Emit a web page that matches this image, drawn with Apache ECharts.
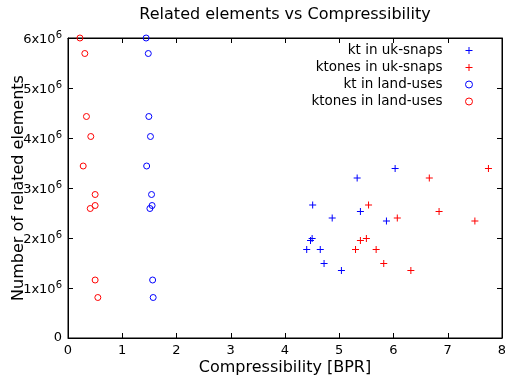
<!DOCTYPE html>
<html><head><meta charset="utf-8">
<script src="https://cdn.jsdelivr.net/npm/echarts@6/dist/echarts.min.js"></script>
<style>html,body{margin:0;padding:0;background:#fff}#c{width:505px;height:383px}</style>
</head><body><div id="c"></div>
<script>
const seriesNames = ['kt in uk-snaps','ktones in uk-snaps','kt in land-uses','ktones in land-uses'];
// uk-snaps (BPR, elements)
const ktUkX =     [6.03,5.33,4.51,5.39,4.87,5.87,4.50,4.47,4.40,4.65,4.72,5.04];
const ktonesUkX = [7.75,6.66,5.54,6.84,6.07,7.50,5.50,5.39,5.30,5.68,5.82,6.32];
const ukY =       [3390000,3200000,2660000,2530000,2400000,2340000,1990000,1950000,1770000,1770000,1490000,1350000];
// land-uses
const ktLandX =     [1.44,1.48,1.49,1.52,1.45,1.54,1.55,1.51,1.56,1.57];
const ktonesLandX = [0.22,0.31,0.34,0.42,0.28,0.50,0.50,0.41,0.50,0.55];
const landY =       [6000000,5690000,4430000,4030000,3440000,2870000,2650000,2590000,1160000,810000];
const xTicks = [0,1,2,3,4,5,6,7,8];
const yTicks = [0,1,2,3,4,5,6];

const FONT = 'DejaVu Sans';
const plus = 'path://M0,3L3,3L3,0L4,0L4,3L7,3L7,4L4,4L4,7L3,7L3,4L0,4Z';
function pts(xs, ys){ return xs.map((x,i)=>[x, ys[i]]); }
const chart = echarts.init(document.getElementById('c'));
function axisLine(){ return {show:true, onZero:false, lineStyle:{color:'#000', width:1}}; }
function tick(){ return {show:true, inside:true, length:5, lineStyle:{color:'#000', width:1}}; }
function mk(name, data, color, isPlus){
  return {name, type:'scatter', data, xAxisIndex:0, yAxisIndex:0,
    symbol: isPlus ? plus : 'circle', symbolSize: isPlus ? 7 : 6,
    itemStyle: isPlus ? {color:color, borderWidth:0, opacity:1}
                      : {color:'transparent', borderColor:color, borderWidth:1, opacity:1},
    emphasis:{disabled:true}};
}
chart.setOption({
  animation:false,
  textStyle:{fontFamily:FONT},
  title:{text:'Related elements vs Compressibility', left:280, top:2, textAlign:'center',
    textStyle:{fontFamily:FONT, fontSize:16, fontWeight:'normal', color:'#000'}},
  grid:{left:68, right:3, top:38, bottom:45, containLabel:false, outerBoundsMode:'none',
    show:true, borderColor:'#000', borderWidth:1, backgroundColor:'transparent'},
  legend:{orient:'vertical', right:27, top:38, align:'right', itemGap:2, itemWidth:7, itemHeight:7,
    textStyle:{fontFamily:FONT, fontSize:13.5, color:'#000', lineHeight:15, padding:[0,18,0,0]},
    data:[
      {name:seriesNames[0], icon:plus, itemStyle:{color:'#0000ff', borderWidth:0}},
      {name:seriesNames[1], icon:plus, itemStyle:{color:'#ff0000', borderWidth:0}},
      {name:seriesNames[2], icon:'circle', itemStyle:{color:'transparent', borderColor:'#0000ff', borderWidth:1}},
      {name:seriesNames[3], icon:'circle', itemStyle:{color:'transparent', borderColor:'#ff0000', borderWidth:1}}
    ]},
  xAxis:[
    {type:'value', min:xTicks[0], max:xTicks[xTicks.length-1], interval:1, position:'bottom',
     name:'Compressibility [BPR]', nameLocation:'middle', nameGap:22, nameMoveOverlap:false,
     nameTextStyle:{fontFamily:FONT, fontSize:16, color:'#000'},
     axisLine:axisLine(), axisTick:tick(), splitLine:{show:false},
     axisLabel:{fontFamily:FONT, fontSize:13, color:'#000', margin:6}},
    {type:'value', min:xTicks[0], max:xTicks[xTicks.length-1], interval:1, position:'top',
     axisLine:axisLine(), axisTick:tick(), splitLine:{show:false}, axisLabel:{show:false}}
  ],
  yAxis:[
    {type:'value', min:0, max:6000000, interval:1000000, position:'left',
     name:'Number of related elements', nameLocation:'middle', nameGap:41, nameRotate:90, nameMoveOverlap:false,
     nameTextStyle:{fontFamily:FONT, fontSize:16, color:'#000'},
     axisLine:axisLine(), axisTick:tick(), splitLine:{show:false},
     axisLabel:{fontFamily:FONT, fontSize:13, color:'#000', margin:6,
       formatter:v=> v===0 ? '0' : '{b|'+(v/1e6)+'x10}{s|6}',
       rich:{b:{fontFamily:FONT, fontSize:13, color:'#000', lineHeight:16, verticalAlign:'bottom'},
             s:{fontFamily:FONT, fontSize:10, color:'#000', lineHeight:16, verticalAlign:'top'}}}},
    {type:'value', min:0, max:6000000, interval:1000000, position:'right',
     axisLine:axisLine(), axisTick:tick(), splitLine:{show:false}, axisLabel:{show:false}}
  ],
  series:[
    mk(seriesNames[0], pts(ktUkX, ukY), '#0000ff', true),
    mk(seriesNames[1], pts(ktonesUkX, ukY), '#ff0000', true),
    mk(seriesNames[2], pts(ktLandX, landY), '#0000ff', false),
    mk(seriesNames[3], pts(ktonesLandX, landY), '#ff0000', false),
    {type:'scatter', name:'_mirror', data:[], xAxisIndex:1, yAxisIndex:1, silent:true}
  ]
});
</script></body></html>
